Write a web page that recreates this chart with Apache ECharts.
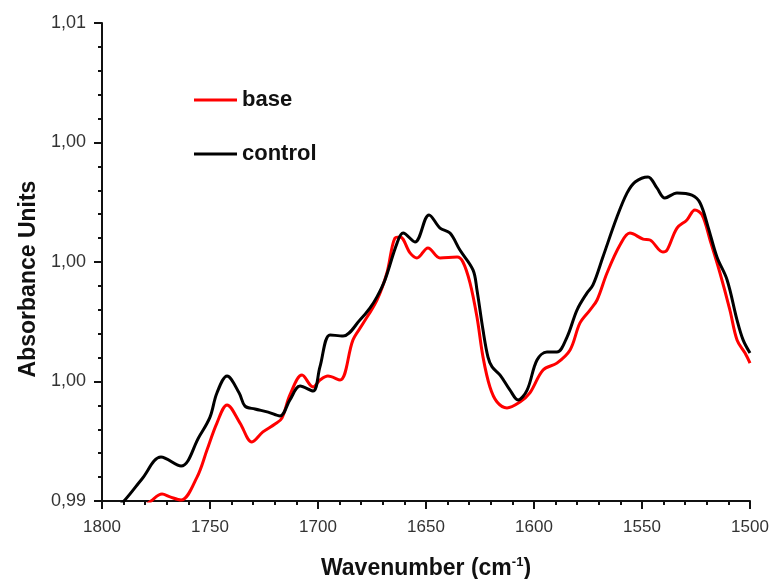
<!DOCTYPE html>
<html>
<head>
<meta charset="utf-8">
<title>Absorbance</title>
<script src="https://cdn.jsdelivr.net/npm/echarts@6/dist/echarts.min.js"></script>
<style>
  html, body { margin: 0; padding: 0; background: #fff; }
  #chart { width: 772px; height: 579px; }
</style>
</head>
<body>
<div id="chart"></div>
<script>
// values
const yTickLabels = ['0,99', '1,00', '1,00', '1,00', '1,01']

const controlWavenumber = [1795, 1789.8, 1781.5, 1772.7, 1763.4, 1755.1, 1750, 1746.8, 1742.1, 1736.5, 1733.8, 1729.2, 1723.1, 1717.6, 1713.0, 1708.3, 1702.3, 1699.1, 1694.4, 1688.4, 1680.6, 1675.9, 1672.7, 1669.0, 1663.4, 1660.6, 1655.1, 1648.6, 1643.5, 1638.9, 1634.3, 1628.2, 1626.4, 1623.6, 1621.3, 1619.4, 1615.7, 1611.1, 1607.4, 1603.2, 1598.6, 1594.0, 1589.4, 1584.7, 1580.1, 1575.5, 1572.7, 1568.1, 1561.6, 1556.9, 1553.2, 1547.2, 1543.1, 1539.4, 1533.8, 1526.9, 1523.1, 1519.4, 1515.3, 1510.6, 1506.0, 1503.2, 1500]
const controlAbsorbance = [0.9896, 0.9900, 0.99092, 0.99184, 0.99146, 0.99268, 0.99351, 0.99452, 0.99523, 0.99452, 0.99397, 0.99385, 0.99372, 0.99356, 0.99423, 0.99481, 0.99460, 0.99561, 0.99695, 0.99690, 0.99757, 0.99808, 0.99854, 0.99925, 1.00079, 1.00121, 1.00084, 1.00197, 1.00142, 1.00121, 1.00050, 0.99966, 0.99883, 0.99715, 0.99602, 0.99561, 0.99527, 0.99464, 0.99423, 0.99464, 0.99590, 0.99623, 0.99623, 0.99686, 0.99799, 0.99870, 0.99904, 1.00021, 1.00188, 1.00289, 1.00335, 1.00356, 1.00310, 1.00268, 1.00289, 1.00280, 1.00247, 1.00146, 1.00021, 0.99925, 0.99757, 0.99674, 0.99619]

const baseWavenumber = [1784, 1777.3, 1772.2, 1768.5, 1763.4, 1756.0, 1751.4, 1746.8, 1742.1, 1736.1, 1730.6, 1725.5, 1719.9, 1716.7, 1713.0, 1707.4, 1702.3, 1699.1, 1695.4, 1689.8, 1683.8, 1679.6, 1672.7, 1668.1, 1664.4, 1662.0, 1657.4, 1654.2, 1649.1, 1643.5, 1635.6, 1632.9, 1629.6, 1626.4, 1623.6, 1620.4, 1617.1, 1612.5, 1606.5, 1601.9, 1595.8, 1589.4, 1583.3, 1578.7, 1574.1, 1570.8, 1566.2, 1560.2, 1555.6, 1549.5, 1546.3, 1540.3, 1538.4, 1533.8, 1529.2, 1525.5, 1522.2, 1518.5, 1513.9, 1509.3, 1506.0, 1502.3, 1500]
const baseAbsorbance = [0.9895, 0.9900, 0.99029, 0.99017, 0.99004, 0.99100, 0.99213, 0.99326, 0.99402, 0.99326, 0.99247, 0.99289, 0.99322, 0.99347, 0.99444, 0.99527, 0.99477, 0.99506, 0.99523, 0.99506, 0.99674, 0.99736, 0.99841, 0.99954, 1.00100, 1.00105, 1.00038, 1.00017, 1.00059, 1.00017, 1.00021, 1.00000, 0.99912, 0.99770, 0.99602, 0.99477, 0.99414, 0.99389, 0.99414, 0.99452, 0.99548, 0.99577, 0.99632, 0.99745, 0.99799, 0.99841, 0.99954, 1.00071, 1.00121, 1.00096, 1.00092, 1.00042, 1.00050, 1.00142, 1.00176, 1.00218, 1.00197, 1.00092, 0.99954, 0.99799, 0.99674, 0.99619, 0.99577]

const toPairs = (xs, ys) => xs.map((x, i) => [x, ys[i]])

const chart = echarts.init(document.getElementById('chart'))

const font = 'Arial, Liberation Sans, sans-serif'
const legendText = { fontFamily: font, fontSize: 22, fontWeight: 'bold', color: '#111' }

chart.setOption({
  animation: false,
  backgroundColor: '#fff',
  grid: { left: 102, right: 22, top: 23, bottom: 78, outerBoundsMode: 'none' },
  legend: [
    {
      data: ['base'], left: 189, top: 84, icon: 'rect',
      itemWidth: 43, itemHeight: 3, itemGap: 8, textStyle: legendText
    },
    {
      data: ['control'], left: 189, top: 138, icon: 'rect',
      itemWidth: 43, itemHeight: 3, itemGap: 8, textStyle: legendText
    }
  ],
  xAxis: {
    type: 'value',
    inverse: true,
    min: 1500,
    max: 1800,
    interval: 50,
    name: '{b|Wavenumber (cm}{s|-1}{b|)}',
    nameLocation: 'middle',
    nameGap: 55,
    nameTextStyle: {
      rich: {
        b: { fontFamily: font, fontSize: 23, fontWeight: 'bold', color: '#111' },
        s: { fontFamily: font, fontSize: 13, fontWeight: 'bold', color: '#111', verticalAlign: 'top', padding: [0, 0, 12, 0] }
      }
    },
    axisLine: { lineStyle: { color: '#111', width: 2 } },
    axisTick: { length: 8, lineStyle: { color: '#111', width: 2 } },
    minorTick: { show: true, splitNumber: 5, length: 4, lineStyle: { color: '#111', width: 2 } },
    axisLabel: { fontFamily: font, fontSize: 17, color: '#333', margin: 18, formatter: v => String(v) },
    splitLine: { show: false }
  },
  yAxis: {
    type: 'value',
    min: 0.99,
    max: 1.01,
    interval: 0.005,
    name: 'Absorbance Units',
    nameLocation: 'middle',
    nameGap: 62,
    nameTextStyle: { fontFamily: font, fontSize: 23, fontWeight: 'bold', color: '#111', padding: [0, 34, 0, 0] },
    axisLine: { show: true, lineStyle: { color: '#111', width: 2 } },
    axisTick: { show: true, length: 8, lineStyle: { color: '#111', width: 2 } },
    minorTick: { show: true, splitNumber: 5, length: 4, lineStyle: { color: '#111', width: 2 } },
    axisLabel: {
      fontFamily: font, fontSize: 18, color: '#333', margin: 16,
      formatter: v => yTickLabels[Math.round((v - 0.99) / 0.005)]
    },
    splitLine: { show: false }
  },
  series: [
    {
      name: 'base',
      type: 'line',
      data: toPairs(baseWavenumber, baseAbsorbance),
      smooth: 0.35,
      showSymbol: false,
      clip: true,
      color: '#ff0000',
      lineStyle: { color: '#ff0000', width: 3 }
    },
    {
      name: 'control',
      type: 'line',
      data: toPairs(controlWavenumber, controlAbsorbance),
      smooth: 0.35,
      showSymbol: false,
      clip: true,
      color: '#000',
      lineStyle: { color: '#000', width: 3 }
    }
  ]
})
</script>
</body>
</html>
